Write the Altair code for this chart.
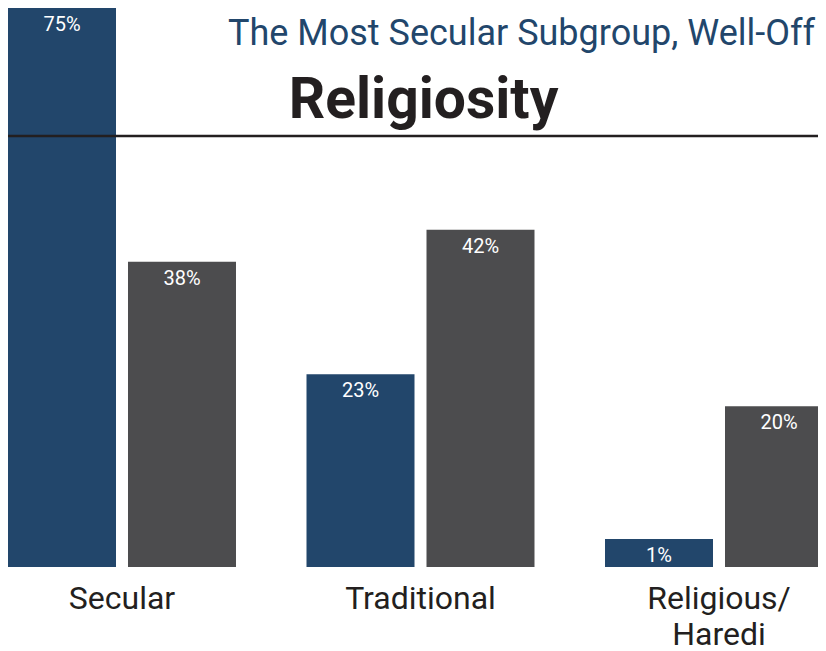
import altair as alt
import pandas as pd

categories = ["Secular", "Traditional", "Religious/Haredi"]
series = ["Most secular subgroup", "All"]
subgroup_values = [75, 24, 3.5]
total_values = [38, 42, 20]
subgroup_labels = ["75%", "23%", "1%"]
total_labels = ["38%", "42%", "20%"]
colors = ["#22466b", "#4c4c4e"]
title_text = "The Most Secular Subgroup, Well-Off"
subtitle_text = "Religiosity"

rows = []
for i, c in enumerate(categories):
    rows.append({"cat": c, "series": series[0], "value": subgroup_values[i], "label": subgroup_labels[i]})
    rows.append({"cat": c, "series": series[1], "value": total_values[i], "label": total_labels[i]})
df = pd.DataFrame(rows)

W, H = 810, 559
FONT = "Roboto"

x = alt.X(
    "cat:N", sort=categories,
    scale=alt.Scale(range=[0, 825], paddingInner=0.2362, paddingOuter=0, round=False),
    axis=alt.Axis(title=None, domain=False, ticks=False, tickSize=0, labelAngle=0,
                  labelFontSize=32, labelFont=FONT, labelColor="#231f20",
                  labelPadding=16, labelLineHeight=36,
                  labelExpr="datum.label == 'Religious/Haredi' ? ['Religious/', 'Haredi'] : datum.label"),
)
xo = alt.XOffset("series:N", sort=series, scale=alt.Scale(paddingInner=0.1, paddingOuter=0, round=False))
y = alt.Y("value:Q", scale=alt.Scale(domain=[0, 69.6], clamp=True, nice=False, zero=True), axis=None)
color = alt.Color("series:N", sort=series, scale=alt.Scale(domain=series, range=colors), legend=None)

base = alt.Chart(df)
bars = base.mark_bar().encode(x=x, xOffset=xo, y=y, color=color)
labels = base.mark_text(baseline="middle", dy=17, color="white", fontSize=20, font=FONT).encode(
    x=x, xOffset=xo, y=y, text="label:N")

rule = alt.Chart(pd.DataFrame({"a": [0]})).mark_rule(color="#231f20", strokeWidth=2.5).encode(
    x=alt.value(0), x2=alt.value(W), y=alt.value(128))

t1 = alt.Chart(pd.DataFrame({"t": [title_text]})).mark_text(
    align="right", baseline="alphabetic", fontSize=36, font=FONT, color="#22466b").encode(
    x=alt.value(807), y=alt.value(37), text="t:N")
t2 = alt.Chart(pd.DataFrame({"t": [subtitle_text]})).mark_text(
    align="center", baseline="alphabetic", fontSize=57, font=FONT, fontWeight="bold", color="#231f20").encode(
    x=alt.value(415.5), y=alt.value(110), text="t:N")

chart = alt.layer(bars, labels, rule, t1, t2).properties(
    width=W, height=H,
    autosize=alt.AutoSizeParams(type="none"),
    padding={"left": 0, "top": 0, "right": 0, "bottom": 90},
    background="white",
).configure_view(stroke=None)

chart.save("out.html", embed_options={"renderer": "svg", "actions": False})
